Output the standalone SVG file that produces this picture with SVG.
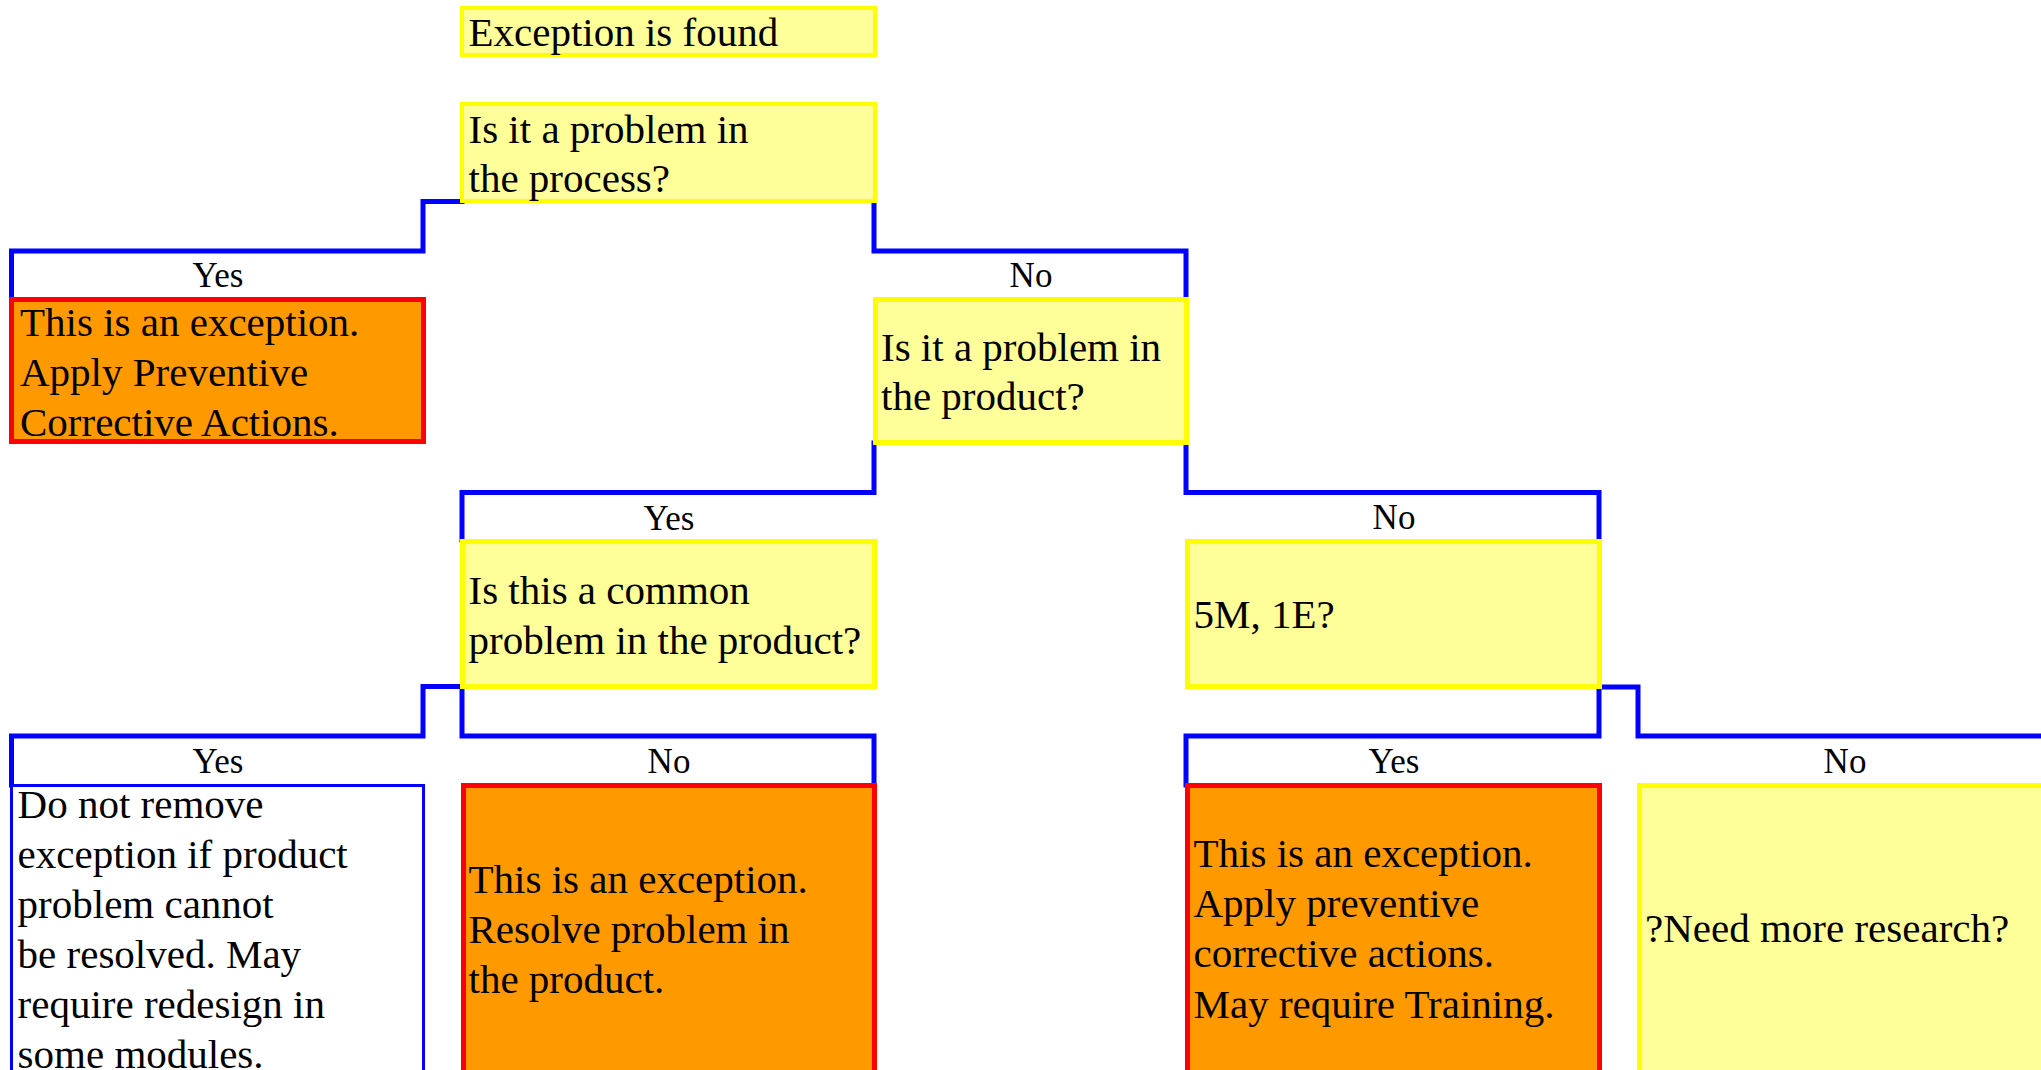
<svg xmlns="http://www.w3.org/2000/svg" width="2041" height="1070" viewBox="0 0 2041 1070">
<style>
  .q { fill: #FFFF99; stroke: #FFFF00; stroke-width: 5; }
  .q4 { fill: #FFFF99; stroke: #FFFF00; stroke-width: 4; }
  .x { fill: #FF9900; stroke: #FF0000; stroke-width: 5; }
  .w { fill: #FFFFFF; stroke: #0000FF; stroke-width: 3; }
  .c { fill: none; stroke: #0000FF; stroke-width: 5; stroke-linejoin: miter; stroke-linecap: square; }
  .t { font-family: "Liberation Serif", "Times New Roman", serif; font-size: 41px; fill: #000000; }
  .l { font-family: "Liberation Serif", "Times New Roman", serif; font-size: 35px; fill: #000000; text-anchor: middle; }
</style>
<rect width="2041" height="1070" fill="#FFFFFF"/>

<g id="connectors">
  <path class="c" d="M462 201.5 H423 V251 H11.5 V299"/>
  <path class="c" d="M874 201 V251 H1186 V299"/>
  <path class="c" d="M874 443 V492.5 H462 V540"/>
  <path class="c" d="M1186 443 V492.5 H1599 V540"/>
  <path class="c" d="M462 686.5 H423 V736 H11.5 V785"/>
  <path class="c" d="M462 686.5 V736 H874 V785"/>
  <path class="c" d="M1599 686.5 V736 H1186 V785"/>
  <path class="c" d="M1599 687 H1638 V736 H2050"/>
  <text class="l" x="218" y="287">Yes</text>
  <text class="l" x="1031" y="287">No</text>
  <text class="l" x="669" y="530">Yes</text>
  <text class="l" x="1394" y="529">No</text>
  <text class="l" x="218" y="773">Yes</text>
  <text class="l" x="669" y="773">No</text>
  <text class="l" x="1394" y="773">Yes</text>
  <text class="l" x="1845" y="773">No</text>
</g>

<g id="n-start">
  <rect class="q4" x="462" y="8" width="413" height="47"/>
  <text class="t" x="468.5" y="46">Exception is found</text>
</g>

<g id="n-process">
  <rect class="q4" x="462" y="104" width="413" height="97"/>
  <text class="t" x="468.5" y="143">Is it a problem in</text>
  <text class="t" x="468.5" y="192">the process?</text>
</g>

<g id="n-process-yes">
  <rect class="x" x="11.5" y="299.5" width="412" height="142"/>
  <text class="t" x="20" y="336">This is an exception.</text>
  <text class="t" x="20" y="386">Apply Preventive</text>
  <text class="t" x="20" y="436">Corrective Actions.</text>
</g>

<g id="n-product">
  <rect class="q" x="875.5" y="299.5" width="311" height="143"/>
  <text class="t" x="881" y="361">Is it a problem in</text>
  <text class="t" x="881" y="410">the product?</text>
</g>

<g id="n-common">
  <rect class="q" x="462.5" y="541.5" width="412" height="145"/>
  <text class="t" x="468.5" y="604">Is this a common</text>
  <text class="t" x="468.5" y="654">problem in the product?</text>
</g>

<g id="n-5m1e">
  <rect class="q" x="1187.5" y="541.5" width="412" height="145"/>
  <text class="t" x="1193.5" y="628">5M, 1E?</text>
</g>

<g id="n-common-yes">
  <rect class="w" x="11.5" y="785.5" width="412" height="330"/>
  <text class="t" x="17.6" y="818">Do not remove</text>
  <text class="t" x="17.6" y="868">exception if product</text>
  <text class="t" x="17.6" y="918">problem cannot</text>
  <text class="t" x="17.6" y="968">be resolved. May</text>
  <text class="t" x="17.6" y="1018">require redesign in</text>
  <text class="t" x="17.6" y="1068">some modules.</text>
</g>

<g id="n-common-no">
  <rect class="x" x="463.5" y="785.5" width="411" height="330"/>
  <text class="t" x="468.5" y="893">This is an exception.</text>
  <text class="t" x="468.5" y="943">Resolve problem in</text>
  <text class="t" x="468.5" y="993">the product.</text>
</g>

<g id="n-5m1e-yes">
  <rect class="x" x="1187.5" y="785.5" width="412" height="330"/>
  <text class="t" x="1193.5" y="867">This is an exception.</text>
  <text class="t" x="1193.5" y="917">Apply preventive</text>
  <text class="t" x="1193.5" y="967">corrective actions.</text>
  <text class="t" x="1193.5" y="1018">May require Training.</text>
</g>

<g id="n-5m1e-no">
  <rect class="q" x="1639.5" y="785.5" width="420" height="330"/>
  <text class="t" x="1645" y="942">?Need more research?</text>
</g>
</svg>
